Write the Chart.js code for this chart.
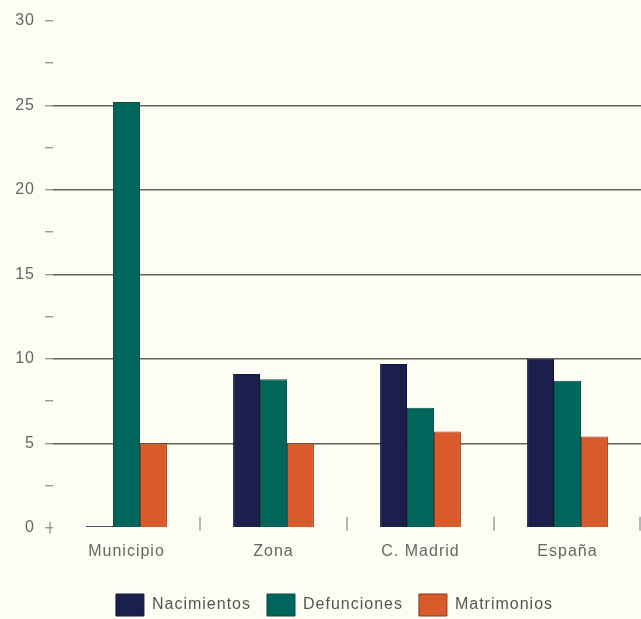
<!DOCTYPE html>
<html>
<head>
<meta charset="utf-8">
<script src="https://cdn.jsdelivr.net/npm/chart.js@4"></script>
<style>
  html, body { margin: 0; padding: 0; background: #fefdf3; }
  #wrap { width: 641px; height: 619px; }
</style>
</head>
<body>
<div id="wrap"><canvas id="chart"></canvas></div>
<script>
// Data
const categories = ['Municipio', 'Zona', 'C. Madrid', 'España'];
const nacimientos = [0.1, 9.1, 9.7, 10.0];
const defunciones = [25.2, 8.8, 7.1, 8.7];
const matrimonios = [5.0, 5.0, 5.7, 5.4];
const yTicks = { min: 0, max: 30, step: 2.5 };

const textColor = '#666';
const gridColor = '#626250';
const fontFamily = '"Liberation Sans", Arial, sans-serif';

// the scanned type is a bit wider than Liberation Sans
const spacing = {
  id: 'spacing',
  beforeLayout(chart) { chart.ctx.letterSpacing = '1px'; },
  beforeDraw(chart) { chart.ctx.letterSpacing = '1px'; },
  // legend sits a little right of the canvas centre in the original
  afterLayout(chart) {
    if (chart.legend) {
      chart.legend.left += 14;
      chart.legend.right += 14;
    }
  }
};

// small vertical separators between categories
const separators = {
  id: 'separators',
  afterDraw(chart) {
    const x = chart.scales.x;
    const bottom = chart.chartArea.bottom;
    const ctx = chart.ctx;
    ctx.save();
    ctx.strokeStyle = '#888';
    ctx.lineWidth = 1.2;
    for (let i = 1; i <= categories.length; i++) {
      const px = i < categories.length
        ? (x.getPixelForValue(i - 1) + x.getPixelForValue(i)) / 2
        : x.getPixelForValue(i - 1) + (x.getPixelForValue(1) - x.getPixelForValue(0)) / 2 - 1;
      ctx.beginPath();
      ctx.moveTo(px, bottom - 11);
      ctx.lineTo(px, bottom + 3);
      ctx.stroke();
    }
    // the "+" at zero
    const y0 = chart.scales.y.getPixelForValue(0);
    const left = chart.chartArea.left;
    ctx.beginPath();
    ctx.moveTo(left - 3, y0 - 6);
    ctx.lineTo(left - 3, y0 + 6);
    ctx.stroke();
    ctx.restore();
  }
};

new Chart(document.getElementById('chart'), {
  type: 'bar',
  data: {
    labels: categories,
    datasets: [
      { label: 'Nacimientos', data: nacimientos, backgroundColor: '#1b1f4b', borderColor: '#14173a', borderWidth: 1 },
      { label: 'Defunciones', data: defunciones, backgroundColor: '#00655a', borderColor: '#0c4a42', borderWidth: 1 },
      { label: 'Matrimonios', data: matrimonios, backgroundColor: '#d95a2b', borderColor: '#8a3a1e', borderWidth: 1 }
    ]
  },
  options: {
    responsive: true,
    maintainAspectRatio: false,
    animation: false,
    categoryPercentage: 0.55,
    barPercentage: 1.0,
    layout: { padding: { top: 21, right: 0, bottom: -7, left: 0 } },
    scales: {
      x: {
        afterFit(scale) { scale.height += 3; },
        grid: { display: false, drawTicks: false },
        border: { display: false },
        ticks: { color: textColor, padding: 14, font: { family: fontFamily, size: 16 } }
      },
      y: {
        min: yTicks.min,
        max: yTicks.max,
        afterFit(scale) { scale.width = 53; },
        border: { display: false },
        grid: {
          lineWidth: 1.5,
          tickLength: 8,
          tickWidth: 1.2,
          tickColor: '#8a8a80',
          color: c => (c.tick && c.tick.value % 5 === 0 && c.tick.value > 0 && c.tick.value < 30) ? gridColor : 'rgba(0,0,0,0)'
        },
        ticks: {
          stepSize: yTicks.step,
          padding: 10,
          color: textColor,
          font: { family: fontFamily, size: 16 },
          callback: v => (v % 5 === 0 ? v : '')
        }
      }
    },
    plugins: {
      legend: {
        position: 'bottom',
        labels: {
          boxWidth: 28,
          boxHeight: 22,
          padding: 16,
          color: '#555',
          font: { family: fontFamily, size: 16 }
        }
      },
      tooltip: { enabled: false }
    }
  },
  plugins: [spacing, separators]
});
</script>
</body>
</html>
